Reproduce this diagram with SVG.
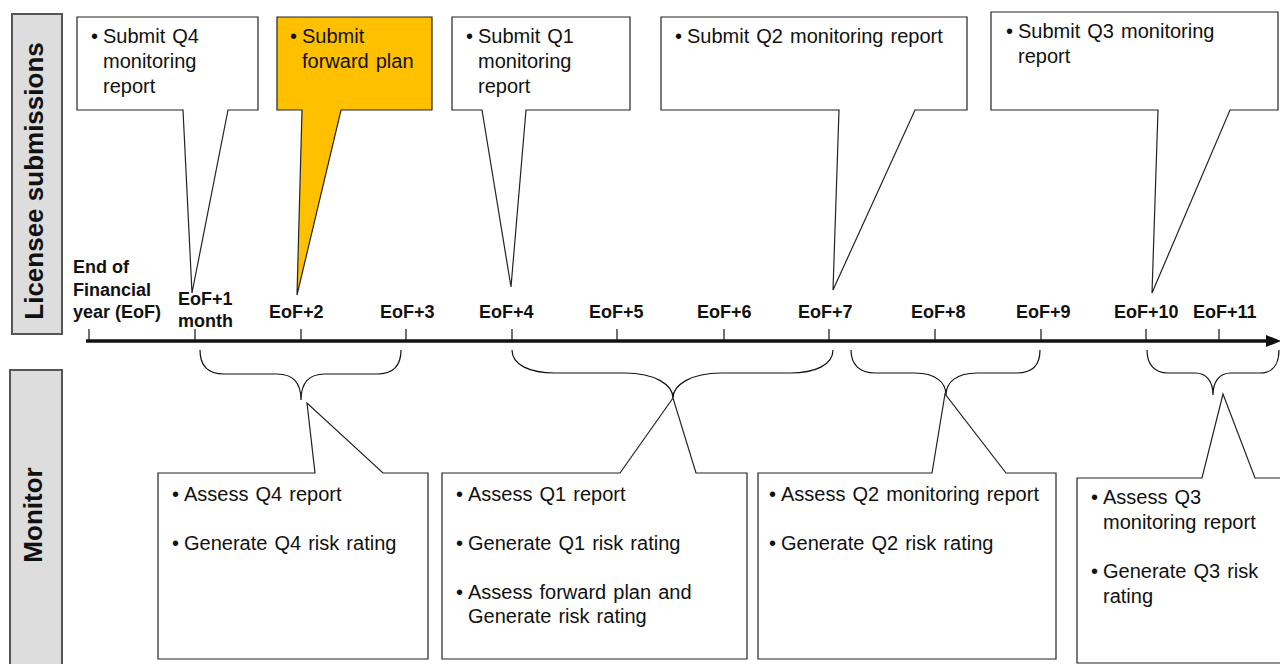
<svg xmlns="http://www.w3.org/2000/svg" width="1280" height="664" viewBox="0 0 1280 664">
<style>
text{font-family:"Liberation Sans",Arial,sans-serif;fill:#111}
.t{font-size:20px;word-spacing:1.5px}
.ax{font-size:18px;font-weight:bold}
.lab{font-size:26px;font-weight:bold}
.box{fill:#fff;stroke:#222;stroke-width:1.2}
.yel{fill:#FFC000;stroke:#222;stroke-width:1.2}
.side{fill:#DDDDDD;stroke:#555;stroke-width:2}
.tick{stroke:#111;stroke-width:1.2}
.brace{fill:none;stroke:#111;stroke-width:1.2}
</style>
<rect width="1280" height="664" fill="#fff"/>
<g id="lane-licensee">
<rect class="side" x="12" y="14" width="50" height="320"/>
<text class="lab" transform="translate(43,181) rotate(-90)" text-anchor="middle">Licensee submissions</text>
</g>
<g id="lane-monitor">
<rect class="side" x="10" y="370" width="52" height="300"/>
<text class="lab" transform="translate(42,515) rotate(-90)" text-anchor="middle">Monitor</text>
</g>
<g id="axis">
<line x1="86" y1="341" x2="1270" y2="341" stroke="#111" stroke-width="3.5"/>
<polygon points="1266,335 1281,341 1266,347" fill="#111"/>
<line class="tick" x1="89" y1="329" x2="89" y2="341"/>
<line class="tick" x1="195" y1="329" x2="195" y2="341"/>
<line class="tick" x1="301" y1="329" x2="301" y2="341"/>
<line class="tick" x1="406" y1="329" x2="406" y2="341"/>
<line class="tick" x1="512" y1="329" x2="512" y2="341"/>
<line class="tick" x1="617" y1="329" x2="617" y2="341"/>
<line class="tick" x1="724" y1="329" x2="724" y2="341"/>
<line class="tick" x1="829" y1="329" x2="829" y2="341"/>
<line class="tick" x1="935" y1="329" x2="935" y2="341"/>
<line class="tick" x1="1041" y1="329" x2="1041" y2="341"/>
<line class="tick" x1="1146" y1="329" x2="1146" y2="341"/>
<line class="tick" x1="1219" y1="329" x2="1219" y2="341"/>
<text class="ax" x="73" y="273">End of</text>
<text class="ax" x="73" y="296">Financial</text>
<text class="ax" x="73" y="318">year (EoF)</text>
<text class="ax" x="178" y="305">EoF+1</text>
<text class="ax" x="178" y="327">month</text>
<text class="ax" x="269" y="318">EoF+2</text>
<text class="ax" x="380" y="318">EoF+3</text>
<text class="ax" x="479" y="318">EoF+4</text>
<text class="ax" x="589" y="318">EoF+5</text>
<text class="ax" x="697" y="318">EoF+6</text>
<text class="ax" x="798" y="318">EoF+7</text>
<text class="ax" x="911" y="318">EoF+8</text>
<text class="ax" x="1016" y="318">EoF+9</text>
<text class="ax" x="1114" y="318">EoF+10</text>
<text class="ax" x="1193" y="318">EoF+11</text>
</g>
<g id="connectors">
<path class="brace" d="M200,350 C200,366 208,374 224,374 L277,374 C293,374 301,382 301,400 C301,382 309,374 325,374 L377,374 C393,374 401,366 401,350"/>
<path class="brace" d="M512,350 C512,365 530,373 555,373 L625,373 C655,373 673,385 673,398 C673,385 691,373 721,373 L790,373 C815,373 833,365 833,350"/>
<path class="brace" d="M851,350 C851,365 860,373 875,373 L915,373 C935,373 946,382 946,395 C946,382 957,373 977,373 L1017,373 C1032,373 1040,365 1040,350"/>
<path class="brace" d="M1147,350 C1147,365 1155,373 1168,373 L1195,373 C1207,373 1213,382 1213,395 C1213,382 1219,373 1231,373 L1260,373 C1272,373 1279,365 1279,350"/>
</g>
<g id="submit-q4">
<path class="box" d="M77,17 H258 V110 H228 L192,293 L183,110 H77 Z"/>
<text class="t" x="91" y="43">•</text><text class="t" x="103" y="43">Submit Q4</text>
<text class="t" x="103" y="68">monitoring</text>
<text class="t" x="103" y="93">report</text>
</g>
<g id="submit-forward-plan">
<path class="yel" d="M277,17 H432 V110 H341 L297,295 L302,110 H277 Z"/>
<text class="t" x="290" y="43">•</text><text class="t" x="302" y="43">Submit</text>
<text class="t" x="302" y="68">forward plan</text>
</g>
<g id="submit-q1">
<path class="box" d="M452,17 H630 V110 H526 L511,287 L482,110 H452 Z"/>
<text class="t" x="466" y="43">•</text><text class="t" x="478" y="43">Submit Q1</text>
<text class="t" x="478" y="68">monitoring</text>
<text class="t" x="478" y="93">report</text>
</g>
<g id="submit-q2">
<path class="box" d="M661,17 H967 V110 H915 L833,290 L839,110 H661 Z"/>
<text class="t" x="675" y="43">•</text><text class="t" x="687" y="43">Submit Q2 monitoring report</text>
</g>
<g id="submit-q3">
<path class="box" d="M991,12 H1278 V110 H1230 L1152,293 L1158,110 H991 Z"/>
<text class="t" x="1006" y="38">•</text><text class="t" x="1018" y="38">Submit Q3 monitoring</text>
<text class="t" x="1018" y="63">report</text>
</g>
<g id="assess-q4">
<path class="box" d="M158,473 H315 L307,403 L383,473 H428 V659 H158 Z"/>
<text class="t" x="172" y="501">•</text><text class="t" x="184" y="501">Assess Q4 report</text>
<text class="t" x="172" y="550">•</text><text class="t" x="184" y="550">Generate Q4 risk rating</text>
</g>
<g id="assess-q1">
<path class="box" d="M442,473 H620 L673,398 L696,473 H747 V659 H442 Z"/>
<text class="t" x="456" y="501">•</text><text class="t" x="468" y="501">Assess Q1 report</text>
<text class="t" x="456" y="550">•</text><text class="t" x="468" y="550">Generate Q1 risk rating</text>
<text class="t" x="456" y="599">•</text><text class="t" x="468" y="599">Assess forward plan and</text>
<text class="t" x="468" y="623">Generate risk rating</text>
</g>
<g id="assess-q2">
<path class="box" d="M758,473 H932 L945,394 L1006,473 H1056 V659 H758 Z"/>
<text class="t" x="769" y="501">•</text><text class="t" x="781" y="501">Assess Q2 monitoring report</text>
<text class="t" x="769" y="550">•</text><text class="t" x="781" y="550">Generate Q2 risk rating</text>
</g>
<g id="assess-q3">
<path class="box" d="M1077,478 H1202 L1223,394 L1255,478 H1290 V663 H1077 Z"/>
<text class="t" x="1091" y="504">•</text><text class="t" x="1103" y="504">Assess Q3</text>
<text class="t" x="1103" y="529">monitoring report</text>
<text class="t" x="1091" y="578">•</text><text class="t" x="1103" y="578">Generate Q3 risk</text>
<text class="t" x="1103" y="603">rating</text>
</g>
</svg>
